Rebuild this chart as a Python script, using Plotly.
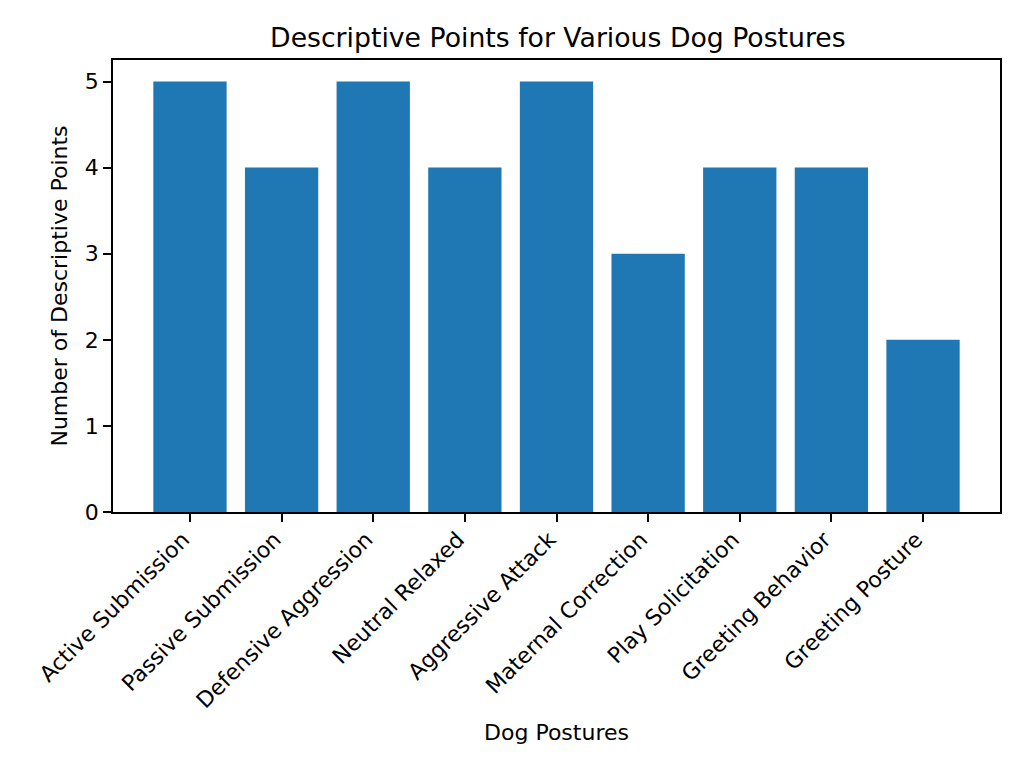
import plotly.graph_objects as go

postures = ["Active Submission", "Passive Submission", "Defensive Aggression",
            "Neutral Relaxed", "Aggressive Attack", "Maternal Correction",
            "Play Solicitation", "Greeting Behavior", "Greeting Posture"]
points = [5, 4, 5, 4, 5, 3, 4, 4, 2]

fig = go.Figure()
fig.add_trace(go.Bar(x=list(range(len(postures))), y=points,
                     width=0.8, marker=dict(color="#1f77b4", line=dict(width=0))))

axis_style = dict(showline=True, linecolor="black", linewidth=1.8, mirror=True,
                  ticks="outside", ticklen=8, tickwidth=1.8, tickcolor="black",
                  showgrid=False, zeroline=False,
                  tickfont=dict(size=22, color="black"))

# page body has an 8px margin, so margins are shifted to compensate
fig.update_layout(
    width=1024, height=768,
    paper_bgcolor="white", plot_bgcolor="white",
    font=dict(family="DejaVu Sans", color="black"),
    margin=dict(l=105, r=32, t=52, b=264),
    showlegend=False,
    title=dict(text="Descriptive Points for Various Dog Postures", x=0.537, xanchor="center",
               y=0.962, yanchor="middle", font=dict(size=26.7)),
    xaxis=dict(axis_style, range=[-0.84, 8.84], tickmode="array",
               tickvals=list(range(len(postures))), ticktext=postures, tickangle=-45,
               ticklabelshift=-7, ticklabelstandoff=-4,
               title=dict(text="Dog Postures", font=dict(size=22), standoff=12)),
    yaxis=dict(axis_style, range=[0, 5.25], dtick=1,
               title=dict(text="Number of Descriptive Points", font=dict(size=22), standoff=11)),
)

fig.write_html("out.html")
